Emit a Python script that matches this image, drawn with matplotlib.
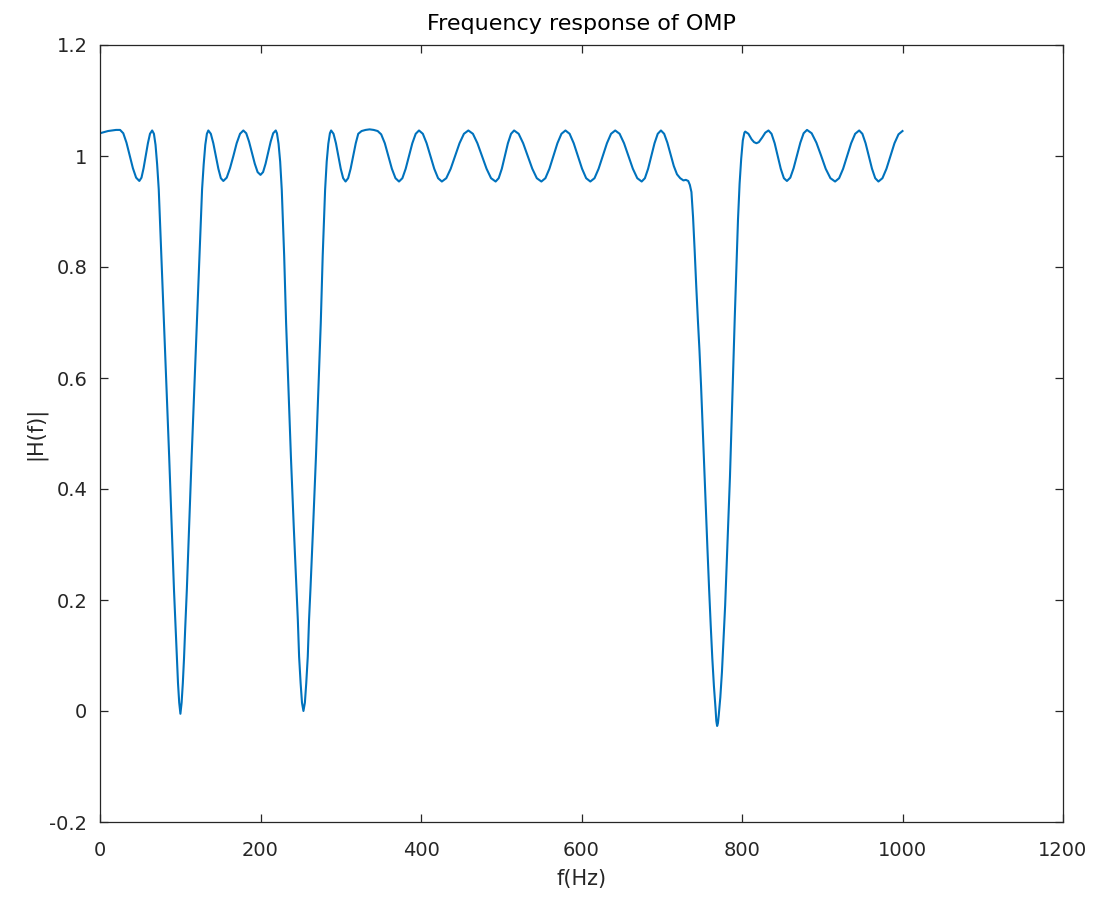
import matplotlib
matplotlib.use("Agg")
import matplotlib.pyplot as plt

# Values (frequency in Hz, magnitude |H(f)|)
freq_hz = [
    0, 5, 10, 15, 20, 25, 29, 33, 37, 41, 45, 49,
    51.7, 54.3, 57, 59.7, 62.3, 65,
    67.2, 69.2, 71.2, 73.2, 76.2, 79.8, 83.2, 86.2, 89.2, 92.2, 94.2, 95.7, 97.2, 98.7,
    100.2,
    101.7, 103.2, 104.7, 106.2, 108.2, 111.2, 114.2, 117.2, 120.6, 124.2, 127.2, 129.2, 131.2, 133.2, 135,
    138.1, 141.2, 144.4, 147.5, 150.6, 153.7,
    157.9, 162, 166.2, 170.3, 174.5, 178.6,
    182.2, 185.7, 189.3, 192.9, 196.4, 200,
    203.2, 206.3, 209.5, 212.7, 215.8, 219,
    220.5, 222.5, 224.5, 226.5, 229.5, 231.9, 235, 237.9, 241.5, 244.8, 246.5, 248.1, 250, 251.7,
    253.5,
    255.3, 257, 258.9, 260.5, 262.2, 265.5, 269.1, 272, 275.1, 277.5, 280.5, 282.5, 284.5, 286.5, 288,
    291, 294, 297, 300, 303, 306,
    309.2, 312.3, 315.5, 318.7, 321.8, 326, 331, 336, 341, 346,
    350.4, 354.9, 359.3, 363.7, 368.2, 372.6,
    376.8, 380.9, 385.1, 389.2, 393.4, 397.5,
    402.3, 407, 411.8, 416.5, 421.3, 426,
    431.5, 437, 442.5, 448, 453.5, 459,
    464.7, 470.3, 476, 481.7, 487.3, 493,
    496.8, 500.7, 504.5, 508.3, 512.2, 516,
    521.7, 527.3, 533, 538.7, 544.3, 550,
    555, 560, 565, 570, 575, 580,
    585.2, 590.3, 595.5, 600.7, 605.8, 611,
    616.2, 621.3, 626.5, 631.7, 636.8, 642,
    647.5, 653, 658.5, 664, 669.5, 675,
    679, 683, 687, 691, 695, 699,
    703, 707, 711, 715, 719, 723, 727, 730, 733, 735, 737, 739, 741, 743, 745, 747,
    749, 751, 753, 755, 757, 759, 761, 763, 765, 767, 768, 769, 770, 771,
    773, 775, 777, 779, 781, 783, 785, 787, 789, 791, 793, 795, 797, 799, 801, 803, 804,
    808, 812, 815, 818, 821, 825, 829, 833,
    836.8, 840.7, 844.5, 848.3, 852.2, 856,
    860.2, 864.3, 868.5, 872.7, 876.8, 881,
    886.8, 892.7, 898.5, 904.3, 910.2, 916,
    921, 926, 931, 936, 941, 946,
    950, 954, 958, 962, 966, 970,
    975, 980, 985, 990, 995, 1000,
]

magnitude = [
    1.041, 1.043, 1.045, 1.046, 1.047, 1.047, 1.041, 1.024, 1.001, 0.978, 0.961, 0.955,
    0.961, 0.978, 1.000, 1.023, 1.040, 1.046,
    1.040, 1.020, 0.985, 0.940, 0.830, 0.699, 0.570, 0.458, 0.338, 0.218, 0.150, 0.095, 0.050, 0.015,
    -0.005,
    0.015, 0.050, 0.095, 0.150, 0.218, 0.338, 0.458, 0.570, 0.699, 0.830, 0.940, 0.985, 1.020, 1.040, 1.046,
    1.040, 1.023, 1.000, 0.977, 0.960, 0.955,
    0.961, 0.978, 1.000, 1.023, 1.040, 1.046,
    1.041, 1.026, 1.006, 0.986, 0.971, 0.966,
    0.971, 0.986, 1.006, 1.026, 1.041, 1.046,
    1.041, 1.022, 0.990, 0.939, 0.820, 0.699, 0.575, 0.458, 0.330, 0.218, 0.165, 0.098, 0.050, 0.015,
    0.000,
    0.015, 0.050, 0.098, 0.165, 0.218, 0.330, 0.458, 0.575, 0.699, 0.820, 0.939, 0.990, 1.022, 1.041, 1.046,
    1.040, 1.023, 1.000, 0.977, 0.960, 0.954,
    0.960, 0.977, 1.000, 1.023, 1.040, 1.045, 1.047, 1.048, 1.047, 1.045,
    1.039, 1.023, 1.000, 0.977, 0.960, 0.954,
    0.960, 0.977, 1.000, 1.023, 1.040, 1.046,
    1.040, 1.023, 1.000, 0.977, 0.960, 0.954,
    0.960, 0.977, 1.000, 1.023, 1.040, 1.046,
    1.040, 1.023, 1.000, 0.977, 0.960, 0.954,
    0.960, 0.977, 1.000, 1.023, 1.040, 1.046,
    1.040, 1.023, 1.000, 0.977, 0.960, 0.954,
    0.960, 0.977, 1.000, 1.023, 1.040, 1.046,
    1.040, 1.023, 1.000, 0.977, 0.960, 0.954,
    0.960, 0.977, 1.000, 1.023, 1.040, 1.046,
    1.040, 1.023, 1.000, 0.977, 0.960, 0.954,
    0.960, 0.977, 1.000, 1.023, 1.040, 1.046,
    1.040, 1.024, 1.003, 0.982, 0.967, 0.960, 0.956, 0.957, 0.955, 0.948, 0.935, 0.890, 0.830, 0.765, 0.705, 0.650,
    0.585, 0.510, 0.435, 0.360, 0.290, 0.220, 0.155, 0.095, 0.045, 0.005, -0.018, -0.027, -0.022, -0.008,
    0.025, 0.070, 0.130, 0.190, 0.265, 0.345, 0.422, 0.520, 0.615, 0.710, 0.800, 0.885, 0.950, 0.995, 1.028, 1.042, 1.044,
    1.040, 1.030, 1.025, 1.023, 1.025, 1.033, 1.042, 1.046,
    1.040, 1.023, 1.000, 0.977, 0.960, 0.955,
    0.961, 0.978, 1.001, 1.024, 1.041, 1.047,
    1.041, 1.024, 1.001, 0.977, 0.960, 0.954,
    0.960, 0.977, 1.000, 1.023, 1.040, 1.046,
    1.040, 1.023, 1.000, 0.977, 0.960, 0.954,
    0.960, 0.977, 1.000, 1.023, 1.039, 1.045,
]

x_ticks = [0, 200, 400, 600, 800, 1000, 1200]
y_ticks = [-0.2, 0, 0.2, 0.4, 0.6, 0.8, 1, 1.2]
y_tick_labels = ["-0.2", "0", "0.2", "0.4", "0.6", "0.8", "1", "1.2"]

title_text = "Frequency response of OMP"
x_label = "f(Hz)"
y_label = "|H(f)|"

line_color = "#0072BD"
axis_color = "#262626"

plt.rcParams["font.family"] = ["DejaVu Sans"]

W, H = 1099, 898
fig = plt.figure(figsize=(W / 100, H / 100), dpi=100)
ax = fig.add_axes([100 / W, (H - 822) / H, 963 / W, 777 / H])

ax.plot(freq_hz, magnitude, color=line_color, linewidth=1.5)

ax.set_xlim(0, 1200)
ax.set_ylim(-0.2, 1.2)
ax.set_xticks(x_ticks)
ax.set_xticklabels([str(t) for t in x_ticks])
ax.set_yticks(y_ticks)
ax.set_yticklabels(y_tick_labels)

for sp in ax.spines.values():
    sp.set_color(axis_color)
    sp.set_linewidth(0.9)

ax.tick_params(axis="both", which="major", direction="in", length=6, width=0.9,
               colors=axis_color, labelsize=14, top=True, right=True)
ax.tick_params(axis="x", pad=14)
ax.tick_params(axis="y", pad=9)

ax.set_title(title_text, fontsize=16, color="black", pad=11)
ax.set_xlabel(x_label, fontsize=15, color=axis_color, labelpad=6)
ax.set_ylabel(y_label, fontsize=15, color=axis_color, labelpad=2)

fig.savefig("out.png", dpi=100)
